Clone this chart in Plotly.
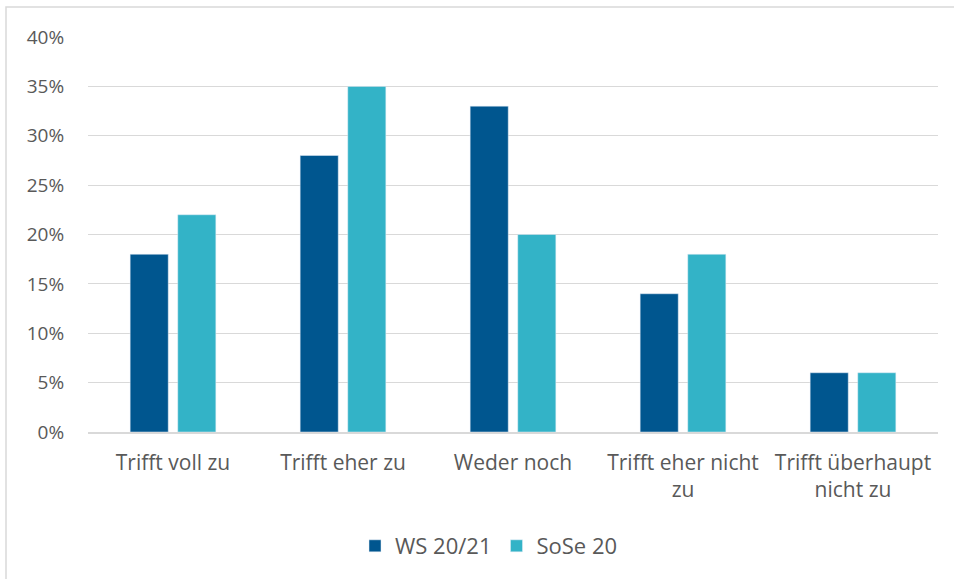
import plotly.graph_objects as go

categories = ["Trifft voll zu", "Trifft eher zu", "Weder noch", "Trifft eher nicht<br>zu", "Trifft überhaupt<br>nicht zu"]
ws_values = [0.18, 0.28, 0.33, 0.14, 0.06]
sose_values = [0.22, 0.35, 0.20, 0.18, 0.06]
series_names = ["WS 20/21", "SoSe 20"]
tick_vals = [0, 0.05, 0.10, 0.15, 0.20, 0.25, 0.30, 0.35, 0.40]
tick_text = ["0%", "5%", "10%", "15%", "20%", "25%", "30%", "35%", "40%"]

W, H = 954, 579
ml, mr, mt, mb = 88, 16, 37, 147
pw, ph = W - ml - mr, H - mt - mb

fam = "Open Sans, Liberation Sans, sans-serif"
font = dict(family=fam, size=19, color="#595959")
xfont = dict(family=fam, size=21, color="#595959")
lfont = dict(family=fam, size=22, color="#595959")

fig = go.Figure()
fig.add_trace(go.Bar(x=categories, y=ws_values, name=series_names[0], marker_color="#00568F"))
fig.add_trace(go.Bar(x=categories, y=sose_values, name=series_names[1], marker_color="#33B3C7"))

def px_x(p):
    return (p - ml) / pw

def px_y(p):
    return (H - mb - p) / ph

fig.update_layout(
    width=W, height=H,
    margin=dict(l=ml, r=mr, t=mt, b=mb, autoexpand=False),
    paper_bgcolor="white", plot_bgcolor="white",
    barmode="group", bargap=0.44, bargroupgap=0.2,
    font=font,
    showlegend=True,
    legend=dict(orientation="h", x=px_x(489), xanchor="center", y=px_y(546), yanchor="middle",
                font=lfont, itemwidth=30, traceorder="normal"),
    shapes=[dict(type="rect", xref="paper", yref="paper",
                 x0=px_x(6), x1=px_x(W + 10), y0=px_y(H + 10), y1=px_y(7),
                 line=dict(color="#D9D9D9", width=1.5), fillcolor="rgba(0,0,0,0)", layer="below")],
)
fig.update_yaxes(range=[0, 0.40], tickvals=tick_vals, ticktext=tick_text,
                 showgrid=True, gridcolor="#D9D9D9", gridwidth=1, zeroline=False,
                 showline=False, ticks="outside", ticklen=19, tickcolor="rgba(0,0,0,0)",
                 tickfont=font)
fig.update_xaxes(showline=True, linecolor="#D9D9D9", linewidth=1.5, showgrid=False,
                 ticks="outside", ticklen=11, tickcolor="rgba(0,0,0,0)", tickfont=xfont)

fig.write_html("out.html", config={"displayModeBar": False},
               post_script="document.body.style.margin='0';document.body.style.overflow='hidden';")
